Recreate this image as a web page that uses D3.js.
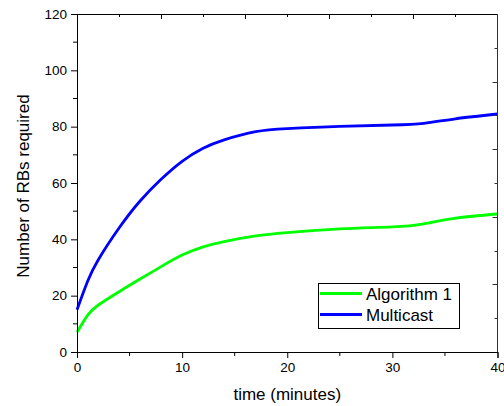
<!DOCTYPE html>
<html>
<head>
<meta charset="utf-8">
<script src="https://cdn.jsdelivr.net/npm/d3@7"></script>
<style>
  html, body { margin: 0; padding: 0; background: #fff; }
  svg { display: block; font-family: "Liberation Sans", Arial, sans-serif; }
</style>
</head>
<body>
<svg id="chart" width="504" height="406"></svg>
<script>
// ---- data ----
const times = [0,1,2,4,6,8,10,12,14,17,20,25,30,33,36,40];
const multicast = [15,25.0,32.6,44,53.6,61.3,67.7,72.3,75.3,78.2,79.3,80.1,80.6,81.2,82.8,84.5];
const algorithm1 = [7,13.0,16.6,21.4,25.9,30.3,34.4,37.3,39.2,41.2,42.4,43.7,44.4,45.5,47.5,49];
const xTicks = [0,10,20,30,40];
const yTicks = [0,20,40,60,80,100,120];
const seriesNames = ["Algorithm 1","Multicast"];
const seriesColors = ["#00ff00","#0000ff"];

// ---- layout ----
const svg = d3.select("#chart");
const L = 77, R = 497.5, T = 14, B = 352;
const x = d3.scaleLinear().domain([0,40]).range([L,R]);
const y = d3.scaleLinear().domain([0,120]).range([B,T]);

// curves
const line = d3.line().x((d,i)=>x(times[i])).y(d=>y(d)).curve(d3.curveNatural);
const series = [algorithm1, multicast];
series.forEach((s,k)=>{
  svg.append("path").attr("d", line(s)).attr("fill","none")
    .attr("stroke", seriesColors[k]).attr("stroke-width",2.8);
});

// frame top & right (with their own inward ticks)
const xTop = d3.scaleLinear().domain([0,10]).range([L,R]);
const yRight = d3.scaleLinear().domain([0,10]).range([B,T]);
const gTop = svg.append("g");
gTop.append("line").attr("x1",L).attr("x2",R).attr("y1",T+0.5).attr("y2",T+0.5).attr("stroke","#000");
d3.range(1,10).forEach(i=>{
  const len = i%2===0 ? 5 : 3;
  gTop.append("line").attr("x1",Math.round(xTop(i))+0.5).attr("x2",Math.round(xTop(i))+0.5)
    .attr("y1",T).attr("y2",T+len).attr("stroke","#000");
});
const gRight = svg.append("g");
gRight.append("line").attr("x1",R).attr("x2",R).attr("y1",T).attr("y2",B).attr("stroke","#333");
d3.range(1,10).forEach(i=>{
  const len = i%2===0 ? 5 : 3;
  gRight.append("line").attr("y1",Math.round(yRight(i))+0.5).attr("y2",Math.round(yRight(i))+0.5)
    .attr("x1",R).attr("x2",R-len).attr("stroke","#333");
});

// bottom axis
const xAxis = d3.axisBottom(x).tickValues(xTicks).tickSize(6).tickPadding(4).tickFormat(d3.format("d"));
const gx = svg.append("g").attr("transform",`translate(0,${B})`).call(xAxis);
d3.range(5,40,10).forEach(v=>{
  gx.append("line").attr("x1",x(v)).attr("x2",x(v)).attr("y1",0).attr("y2",4).attr("stroke","#000");
});
// left axis
const yAxis = d3.axisLeft(y).tickValues(yTicks).tickSize(6).tickPadding(4).tickFormat(d3.format("d"));
const gy = svg.append("g").attr("transform",`translate(${L},0)`).call(yAxis);
d3.range(10,120,20).forEach(v=>{
  gy.append("line").attr("x1",0).attr("x2",-4).attr("y1",y(v)).attr("y2",y(v)).attr("stroke","#000");
});
[gx,gy].forEach(g=>{
  g.select(".domain").attr("stroke","#000");
  g.selectAll(".tick line").attr("stroke","#000");
  g.selectAll("text").attr("font-size","13.5px").attr("fill","#000")
    .attr("font-family","'Liberation Sans', Arial, sans-serif");
});

// titles
svg.append("text").attr("x",(L+R)/2).attr("y",400).attr("text-anchor","middle")
  .attr("font-size","17px").text("time (minutes)");
svg.append("text").attr("transform","translate(29,186) rotate(-90)").attr("text-anchor","middle")
  .attr("font-size","17px").text("Number of RBs required");

// legend
const lg = svg.append("g");
lg.append("rect").attr("x",318.5).attr("y",283.5).attr("width",141).attr("height",45)
  .attr("fill","#fff").attr("stroke","#000");
seriesNames.forEach((n,i)=>{
  const yy = 293.5 + i*21;
  lg.append("line").attr("x1",320).attr("x2",362).attr("y1",yy).attr("y2",yy)
    .attr("stroke",seriesColors[i]).attr("stroke-width",2.8);
  lg.append("text").attr("x",366).attr("y",yy+6).attr("font-size","17px").text(n);
});
</script>
</body>
</html>
